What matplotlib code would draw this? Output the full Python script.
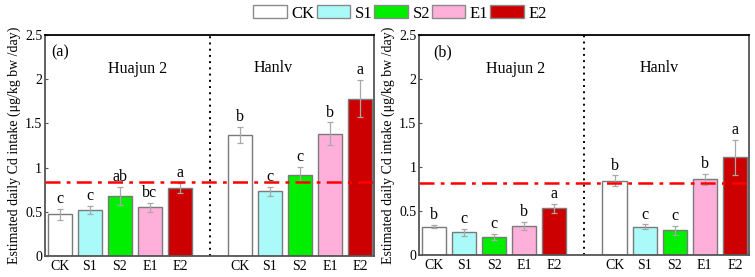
import numpy as np
import matplotlib
matplotlib.use("Agg")
import matplotlib.pyplot as plt
from matplotlib.patches import Patch
from matplotlib.ticker import FormatStrFormatter

plt.rcParams["font.family"] = ["Liberation Serif", "DejaVu Serif"]

traitements = ["CK", "S1", "S2", "E1", "E2"]
couleurs = ["#FFFFFF", "#AAFAFA", "#00EE00", "#FFB0DA", "#CC0000"]

# panneau (a) : Huajun 2 puis Hanlv
valA_huajun = [0.47, 0.52, 0.68, 0.55, 0.77]
errA_huajun = [0.065, 0.05, 0.105, 0.05, 0.06]
lettresA_huajun = ["c", "c", "ab", "bc", "a"]
valA_hanlv = [1.37, 0.73, 0.92, 1.38, 1.78]
errA_hanlv = [0.09, 0.05, 0.09, 0.13, 0.21]
lettresA_hanlv = ["b", "c", "c", "b", "a"]
seuilA = 0.84

# panneau (b)
valB_huajun = [0.325, 0.26, 0.21, 0.335, 0.53]
errB_huajun = [0.015, 0.04, 0.035, 0.045, 0.05]
lettresB_huajun = ["b", "c", "c", "b", "a"]
valB_hanlv = [0.845, 0.325, 0.28, 0.86, 1.11]
errB_hanlv = [0.06, 0.025, 0.05, 0.06, 0.2]
lettresB_hanlv = ["b", "c", "c", "b", "a"]
seuilB = 0.82

axeOrdonnee = "Estimated daily Cd intake (μg/kg bw /day)"

fig = plt.figure(figsize=(7.55, 2.77), dpi=100)
axA = fig.add_axes([0.0596, 0.0758, 0.4358, 0.798])
axB = fig.add_axes([0.555, 0.079, 0.437, 0.794])


def panneau(ax, v1, e1, l1, v2, e2, l2, seuil, lettre, pos):
    x1 = np.arange(1, 6)
    x2 = np.arange(7, 12)
    for x, v, e, l in [(x1, v1, e1, l1), (x2, v2, e2, l2)]:
        ax.bar(x, v, width=0.8, color=couleurs, edgecolor="#7a7a7a", linewidth=1.0, zorder=2)
        ax.errorbar(x, v, yerr=e, fmt="none", ecolor="#a8a8a8", elinewidth=0.9,
                    capsize=2.5, capthick=0.9, zorder=3)
        for xi, vi, ei, li in zip(x, v, e, l):
            ax.text(xi, vi + ei + 0.02, li, ha="center", va="bottom", fontsize=11.5, zorder=4)
    ax.axhline(seuil, color="#FF0000", linewidth=1.8, linestyle=(0, (6, 2.5, 1.5, 2.5)), zorder=5)
    ax.axvline(6, color="black", linewidth=1.4, linestyle=(0, (1, 2.2)), zorder=1)
    ax.set_xlim(0.5, 11.47)
    ax.set_ylim(0, 2.5)
    ax.set_xticks(list(x1) + list(x2))
    ax.set_xticklabels(traitements + traitements, fontsize=10)
    ax.set_yticks([0, 0.5, 1, 1.5, 2, 2.5])
    ax.yaxis.set_major_formatter(FormatStrFormatter("%g"))
    ax.tick_params(axis="y", direction="in", length=2.5, labelsize=10, pad=2, color="#555555")
    ax.tick_params(axis="x", length=0, labelsize=10, pad=3)
    ax.set_ylabel(axeOrdonnee, fontsize=10, labelpad=3)
    ax.spines["top"].set_color("black")
    for s in ["left", "bottom", "right"]:
        ax.spines[s].set_color("#555555")
    for s in ax.spines.values():
        s.set_linewidth(1.3)
    ax.text(pos[0], 2.3, lettre, ha="center", va="center", fontsize=11.5)
    ax.text(pos[1], 2.12, "Huajun 2", ha="center", va="center", fontsize=11.5)
    ax.text(pos[2], 2.13, "Hanlv", ha="center", va="center", fontsize=11.5)


panneau(axA, valA_huajun, errA_huajun, lettresA_huajun, valA_hanlv, errA_hanlv, lettresA_hanlv,
        seuilA, "(a)", (1.0, 3.6, 8.1))
panneau(axB, valB_huajun, errB_huajun, lettresB_huajun, valB_hanlv, errB_hanlv, lettresB_hanlv,
        seuilB, "(b)", (1.3, 3.7, 8.5))

handles = [Patch(facecolor=c, edgecolor="#8a8a8a", linewidth=1.0) for c in couleurs]
fig.legend(handles, traitements, loc="center", bbox_to_anchor=(0.53, 0.952), ncol=5,
           frameon=False, fontsize=12, handlelength=2.0, handleheight=0.85,
           handletextpad=0.3, columnspacing=0.1, borderpad=0)

fig.savefig("out.png", dpi=100)
